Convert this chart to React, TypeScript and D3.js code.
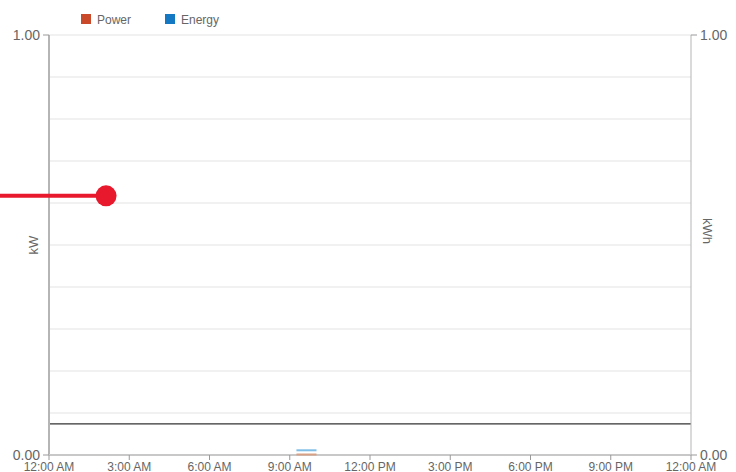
import React from "react";
import * as d3 from "d3";

// ---- data ----
const dayStart = new Date(2020, 0, 1, 0, 0);
const dayEnd = new Date(2020, 0, 2, 0, 0);
const leftDomain = [0, 1];
const rightDomain = [0, 1];
const yTickValues = [0, 1];
const gridValues = [0.1, 0.2, 0.3, 0.4, 0.5, 0.6, 0.7, 0.8, 0.9, 1.0];
const legendSeries = ["Power", "Energy"];
const legendColors = ["#c9492a", "#1578c2"];
// energy/power interval at 9:15 - 10:00
const energyBars = [{ start: new Date(2020, 0, 1, 9, 15), end: new Date(2020, 0, 1, 10, 0), value: 0.01 }];
const powerBars = [{ start: new Date(2020, 0, 1, 9, 15), end: new Date(2020, 0, 1, 10, 0), value: 0.0 }];
const thresholdValue = [0.074];
const markerPoint = [{ time: new Date(2020, 0, 1, 2, 8), value: 0.617 }];

const W = 736;
const H = 472;
const margin = { left: 49, right: 45, top: 35, bottom: 17 };

export default function App() {
  const x = d3
    .scaleTime()
    .domain([dayStart, dayEnd])
    .range([margin.left, W - margin.right]);
  const y = d3.scaleLinear().domain(leftDomain).range([H - margin.bottom, margin.top]);
  const y2 = d3.scaleLinear().domain(rightDomain).range([H - margin.bottom, margin.top]);
  const xTicks = x.ticks(d3.timeHour.every(3));
  const fmt = d3.timeFormat("%-I:%M %p");
  const font = "'Liberation Sans', Arial, sans-serif";
  const textColor = "#666";
  const x0 = margin.left;
  const x1 = W - margin.right;
  const yb = y(0);

  return (
    <svg
      width={W}
      height={H}
      style={{ position: "absolute", left: 0, top: 0, display: "block" }}
      fontFamily={font}
    >
      <rect width={W} height={H} fill="#fff" />
      {/* grid */}
      {gridValues.map((v) => (
        <line key={v} x1={x0} x2={x1} y1={y(v)} y2={y(v)} stroke="#e3e3e3" strokeWidth={1} />
      ))}
      {/* threshold line */}
      {thresholdValue.map((v) => (
        <line key={v} x1={x0} x2={x1} y1={y(v)} y2={y(v)} stroke="#333" strokeWidth={1.2} />
      ))}
      {/* axes */}
      <line x1={x0} x2={x0} y1={margin.top} y2={yb} stroke="#b5b5b5" strokeWidth={2} />
      <line x1={x1} x2={x1} y1={margin.top} y2={yb} stroke="#b5b5b5" strokeWidth={1} />
      <line x1={x0} x2={x1} y1={yb} y2={yb} stroke="#c8c8c8" strokeWidth={2} />
      {/* energy/power bars */}
      {energyBars.map((d, i) => (
        <line
          key={"e" + i}
          x1={x(d.start)}
          x2={x(d.end)}
          y1={y2(d.value) - 0.5}
          y2={y2(d.value) - 0.5}
          stroke="#7dbde6"
          strokeWidth={2}
        />
      ))}
      {powerBars.map((d, i) => (
        <line
          key={"p" + i}
          x1={x(d.start)}
          x2={x(d.end)}
          y1={y(d.value) - 0.5}
          y2={y(d.value) - 0.5}
          stroke="#d8a085"
          strokeWidth={2}
        />
      ))}
      {yTickValues.map((v) => (
        <g key={"l" + v}>
          <line x1={x0 - 6} x2={x0} y1={y(v)} y2={y(v)} stroke="#999" />
          <text x={x0 - 9} y={y(v) + 5} textAnchor="end" fontSize={14} fill={textColor}>
            {v.toFixed(2)}
          </text>
        </g>
      ))}
      {yTickValues.map((v) => (
        <g key={"r" + v}>
          <line x1={x1} x2={x1 + 6} y1={y2(v)} y2={y2(v)} stroke="#999" />
          <text x={x1 + 9} y={y2(v) + 5} textAnchor="start" fontSize={14} fill={textColor}>
            {v.toFixed(2)}
          </text>
        </g>
      ))}
      {xTicks.map((t, i) => (
        <g key={"x" + i}>
          <line x1={x(t)} x2={x(t)} y1={yb} y2={yb + 5} stroke="#999" />
          <text x={x(t)} y={yb + 16} textAnchor="middle" fontSize={12} fill={textColor}>
            {fmt(t)}
          </text>
        </g>
      ))}
      {/* axis titles */}
      <text
        transform={`translate(38, ${(margin.top + yb) / 2}) rotate(-90)`}
        textAnchor="middle"
        fontSize={13}
        fill={textColor}
      >
        kW
      </text>
      <text
        transform={`translate(703, ${(margin.top + yb) / 2 - 14}) rotate(90)`}
        textAnchor="middle"
        fontSize={13}
        fill={textColor}
      >
        kWh
      </text>
      {/* legend */}
      {legendSeries.map((s, i) => (
        <g key={s} transform={`translate(${81 + i * 84}, 14)`}>
          <rect width={10} height={10} fill={legendColors[i]} />
          <text x={16} y={10} fontSize={12} fill={textColor}>
            {s}
          </text>
        </g>
      ))}
      {/* marker */}
      {markerPoint.map((d, i) => (
        <g key={"m" + i}>
          <line x1={0} x2={x(d.time)} y1={y(d.value)} y2={y(d.value)} stroke="#e8192c" strokeWidth={4} />
          <circle cx={x(d.time)} cy={y(d.value)} r={10.5} fill="#e8192c" />
        </g>
      ))}
    </svg>
  );
}
